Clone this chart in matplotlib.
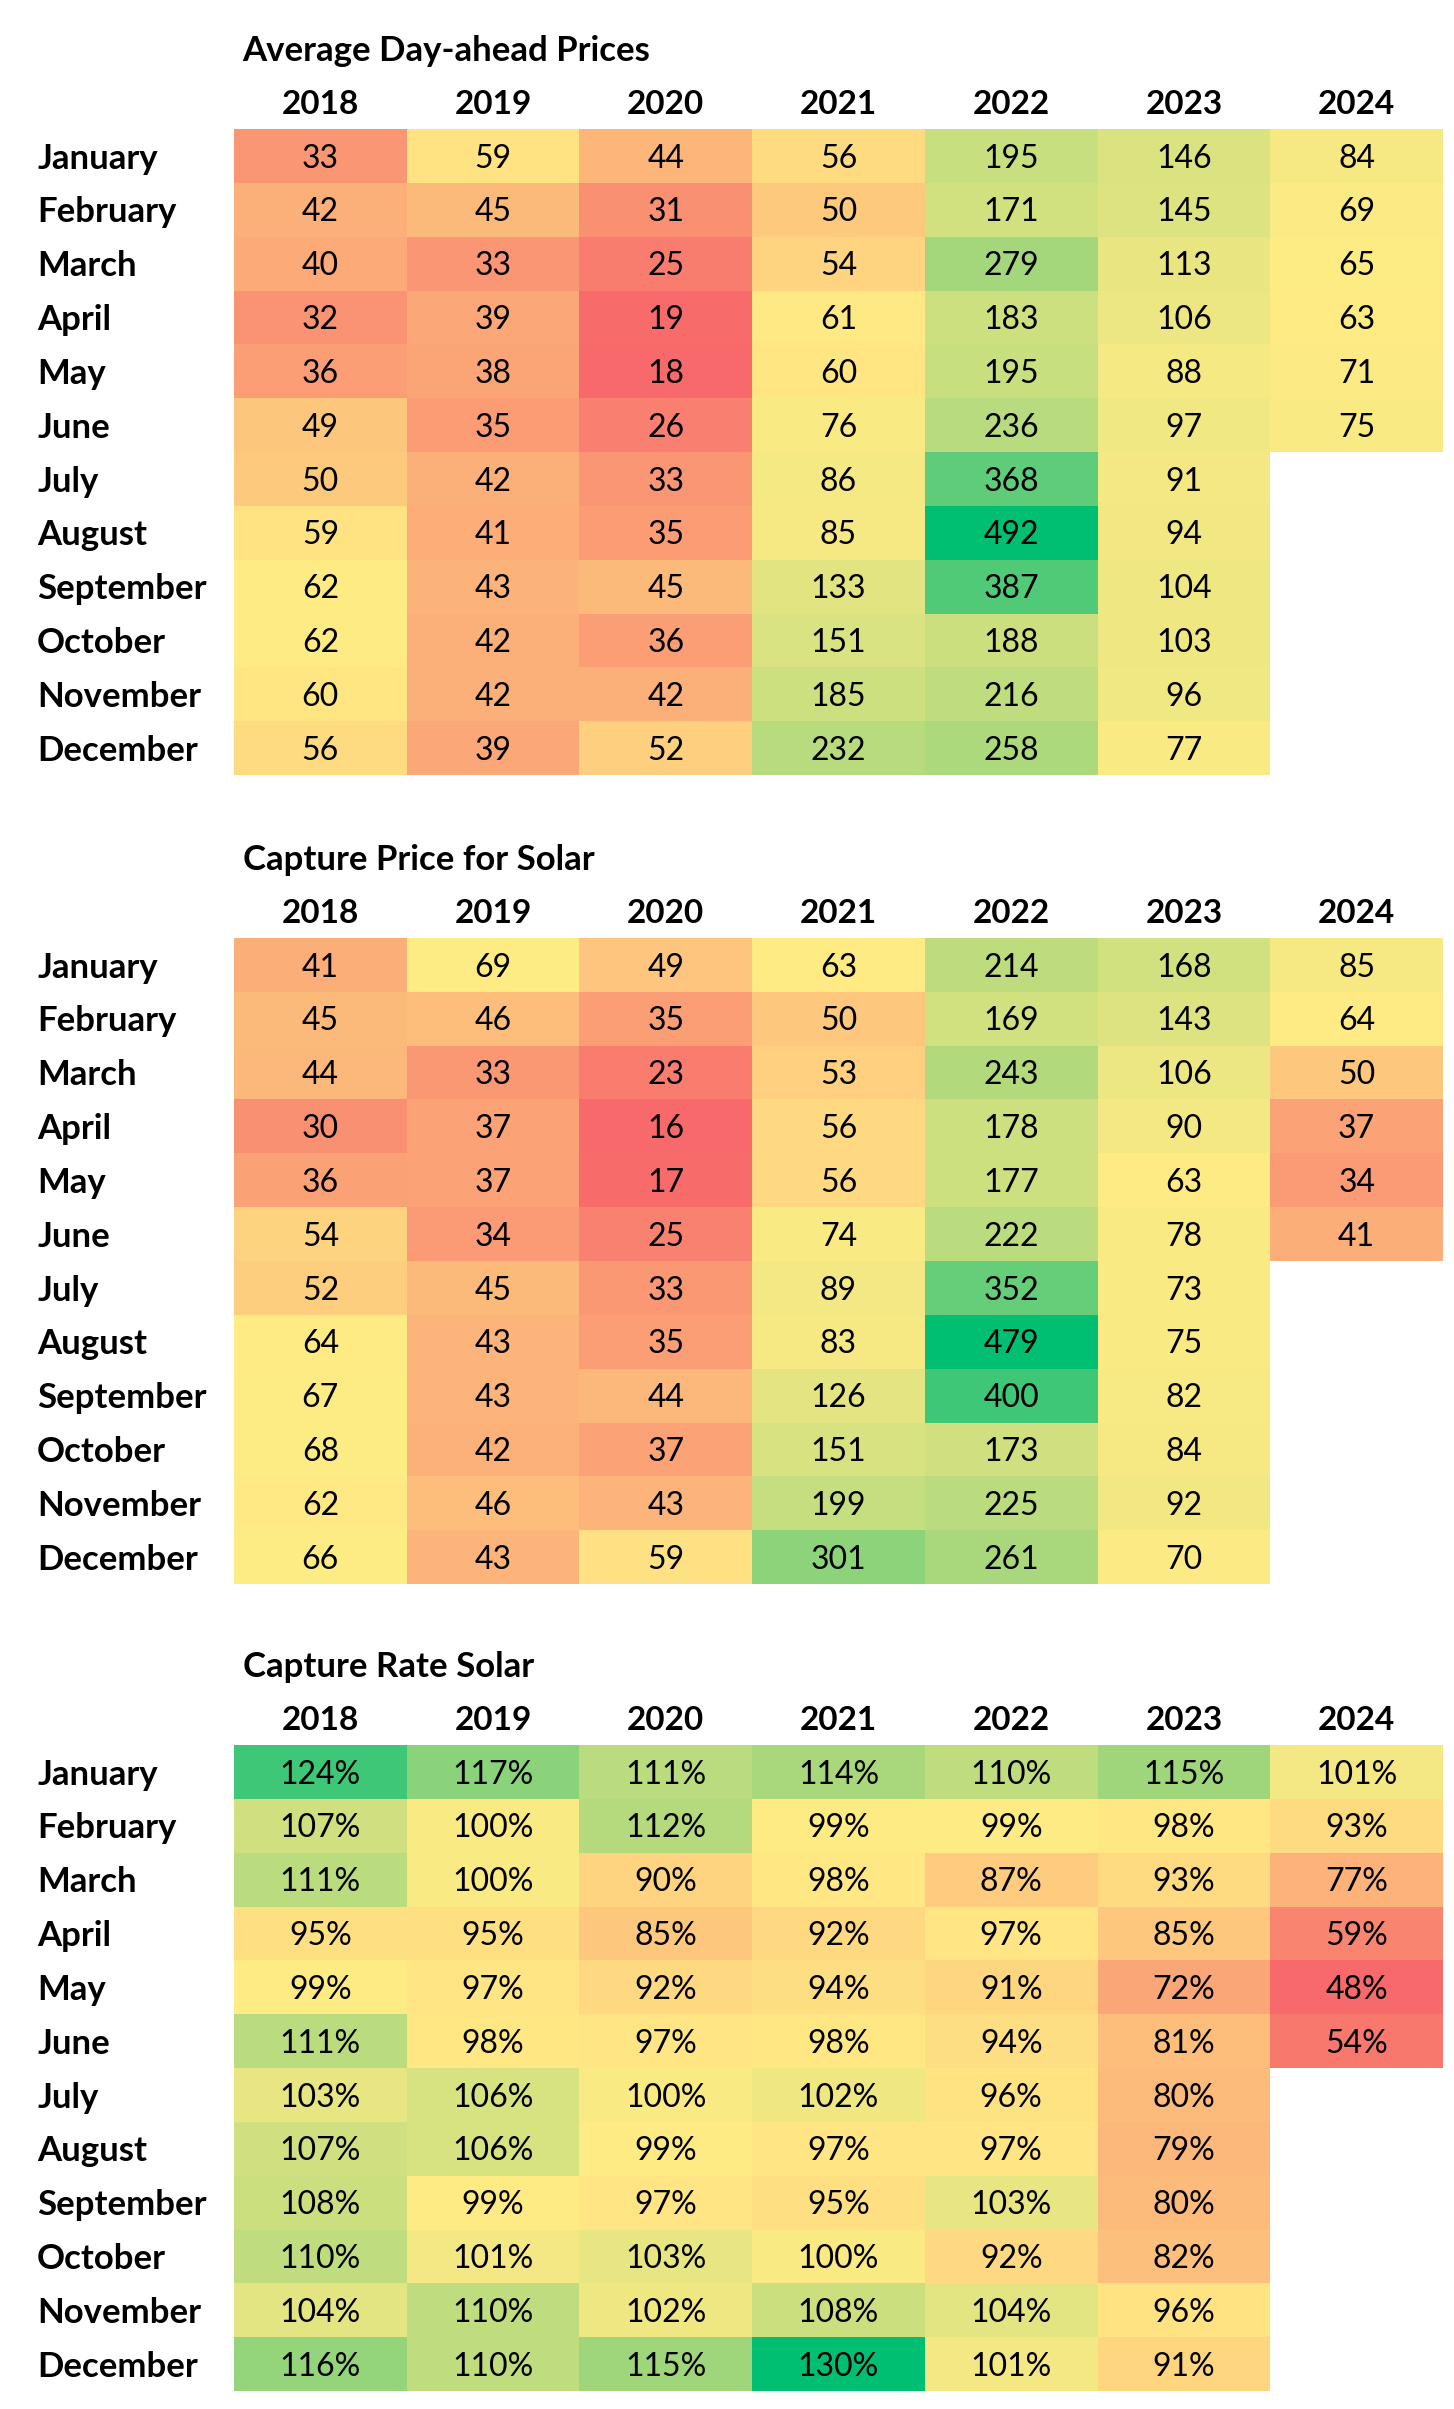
import matplotlib
matplotlib.use('Agg')
import matplotlib.pyplot as plt
import numpy as np
from matplotlib.colors import LinearSegmentedColormap, TwoSlopeNorm

plt.rcParams['font.family'] = ['Lato', 'DejaVu Sans']

months = ['January', 'February', 'March', 'April', 'May', 'June', 'July',
          'August', 'September', 'October', 'November', 'December']
years = ['2018', '2019', '2020', '2021', '2022', '2023', '2024']
nan = np.nan

# Average Day-ahead Prices, one list per year (Jan..Dec)
dap_2018 = [33, 42, 40, 32, 36, 49, 50, 59, 62, 62, 60, 56]
dap_2019 = [59, 45, 33, 39, 38, 35, 42, 41, 43, 42, 42, 39]
dap_2020 = [44, 31, 25, 19, 18, 26, 33, 35, 45, 36, 42, 52]
dap_2021 = [56, 50, 54, 61, 60, 76, 86, 85, 133, 151, 185, 232]
dap_2022 = [195, 171, 279, 183, 195, 236, 368, 492, 387, 188, 216, 258]
dap_2023 = [146, 145, 113, 106, 88, 97, 91, 94, 104, 103, 96, 77]
dap_2024 = [84, 69, 65, 63, 71, 75, nan, nan, nan, nan, nan, nan]

# Capture Price for Solar
cps_2018 = [41, 45, 44, 30, 36, 54, 52, 64, 67, 68, 62, 66]
cps_2019 = [69, 46, 33, 37, 37, 34, 45, 43, 43, 42, 46, 43]
cps_2020 = [49, 35, 23, 16, 17, 25, 33, 35, 44, 37, 43, 59]
cps_2021 = [63, 50, 53, 56, 56, 74, 89, 83, 126, 151, 199, 301]
cps_2022 = [214, 169, 243, 178, 177, 222, 352, 479, 400, 173, 225, 261]
cps_2023 = [168, 143, 106, 90, 63, 78, 73, 75, 82, 84, 92, 70]
cps_2024 = [85, 64, 50, 37, 34, 41, nan, nan, nan, nan, nan, nan]

# Capture Rate Solar (%)
crs_2018 = [124, 107, 111, 95, 99, 111, 103, 107, 108, 110, 104, 116]
crs_2019 = [117, 100, 100, 95, 97, 98, 106, 106, 99, 101, 110, 110]
crs_2020 = [111, 112, 90, 85, 92, 97, 100, 99, 97, 103, 102, 115]
crs_2021 = [114, 99, 98, 92, 94, 98, 102, 97, 95, 100, 108, 130]
crs_2022 = [110, 99, 87, 97, 91, 94, 96, 97, 103, 92, 104, 101]
crs_2023 = [115, 98, 93, 85, 72, 81, 80, 79, 80, 82, 96, 91]
crs_2024 = [101, 93, 77, 59, 48, 54, nan, nan, nan, nan, nan, nan]

tables = [
    ('Average Day-ahead Prices',
     [dap_2018, dap_2019, dap_2020, dap_2021, dap_2022, dap_2023, dap_2024], '{:.0f}'),
    ('Capture Price for Solar',
     [cps_2018, cps_2019, cps_2020, cps_2021, cps_2022, cps_2023, cps_2024], '{:.0f}'),
    ('Capture Rate Solar',
     [crs_2018, crs_2019, crs_2020, crs_2021, crs_2022, crs_2023, crs_2024], '{:.0f}%'),
]

# excel-like red / yellow / green colour scale
cmap = LinearSegmentedColormap.from_list(
    'ryg', [(0.0, '#F8696B'), (0.5, '#FFEB84'), (0.75, '#A6D77C'), (1.0, '#00BE72')])
cmap.set_bad('white')

W, H = 1454, 2409
fig = plt.figure(figsize=(W / 100, H / 100), dpi=100)

left, width = 234 / W, 1209 / W
tops = [129, 938, 1745]
tab_h = 646

for (title, cols, fmt), top in zip(tables, tops):
    data = np.array(cols, dtype=float).T  # rows = months
    vals = data[~np.isnan(data)]
    norm = TwoSlopeNorm(vmin=vals.min(), vcenter=np.median(vals), vmax=vals.max())

    ax = fig.add_axes([left, 1 - (top + tab_h) / H, width, tab_h / H])
    ax.pcolormesh(np.ma.masked_invalid(data), cmap=cmap, norm=norm)
    ax.set_xlim(0, len(years))
    ax.set_ylim(len(months), 0)
    ax.axis('off')

    for i in range(len(months)):
        ax.text(-1.14, i + 0.55, months[i], ha='left', va='center',
                fontsize=25, fontweight='bold', clip_on=False)
        for j in range(len(years)):
            v = data[i, j]
            if not np.isnan(v):
                ax.text(j + 0.5, i + 0.55, fmt.format(v), ha='center', va='center',
                        fontsize=23)
    for j, y in enumerate(years):
        ax.text(j + 0.5, -0.45, y, ha='center', va='center', fontsize=24,
                fontweight='bold', clip_on=False)
    ax.text(0.05, -1.45, title, ha='left', va='center', fontsize=25,
            fontweight='bold', clip_on=False)

fig.savefig('out.png', dpi=100, facecolor='white')
